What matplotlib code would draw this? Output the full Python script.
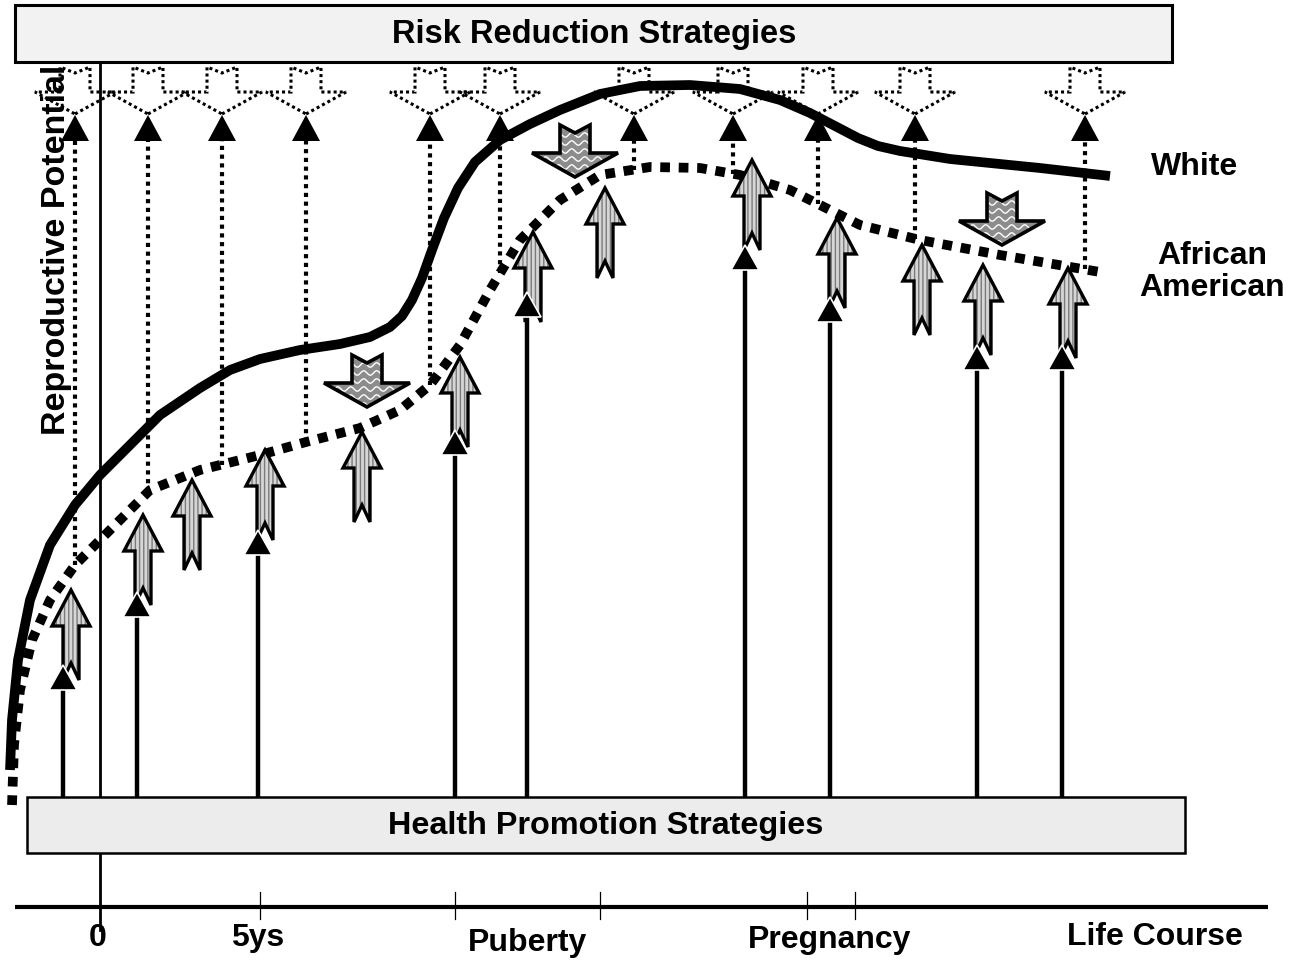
import numpy as np
import matplotlib.pyplot as plt
from matplotlib.patches import Polygon, Rectangle

# ---- data (pixel coordinates, y grows downward) ----
white_x = [10, 12, 18, 30, 50, 75, 100, 130, 160, 200, 230, 260, 300, 340, 370, 390,
           402, 412, 422, 432, 444, 458, 475, 500, 530, 560, 600, 640, 690, 740, 780,
           810, 835, 858, 878, 900, 950, 1040, 1110]
white_y = [770, 720, 660, 600, 545, 505, 475, 445, 415, 388, 370, 359, 350, 344, 337, 327,
           316, 300, 278, 250, 218, 188, 162, 140, 124, 110, 94, 86, 85, 89, 100,
           113, 126, 138, 146, 151, 159, 168, 176]

aa_x = [12, 14, 20, 32, 50, 75, 100, 150, 200, 260, 306, 360, 400, 430, 460,
        490, 520, 560, 600, 650, 700, 740, 790, 820, 860, 920, 1000, 1100]
aa_y = [805, 745, 690, 640, 600, 565, 540, 490, 470, 455, 442, 428, 410, 385, 345,
        290, 240, 200, 175, 167, 168, 175, 190, 205, 225, 240, 255, 272]

# health promotion arrows (solid)
health_x = [63, 137, 258, 455, 527, 745, 830, 977, 1062]
health_tip = [665, 592, 530, 430, 292, 245, 297, 345, 345]

# hatched up arrows
boost_x = [71, 143, 192, 265, 362, 460, 533, 605, 752, 837, 922, 983, 1068]
boost_tip = [590, 515, 480, 450, 432, 357, 232, 188, 160, 218, 245, 265, 268]

# risk reduction arrows (dotted)
risk_x = [75, 148, 222, 306, 430, 500, 634, 733, 818, 915, 1085]

# grey down arrows
down_x = [367, 575, 1002]
down_tip = [407, 177, 245]

tick_x = [260, 455, 600, 807, 855]
labels = ['0', '5ys', 'Puberty', 'Pregnancy', 'Life Course']
label_x = [98, 258, 527, 830, 1155]
label_y = [938, 938, 943, 940, 937]

# ---- figure ----
fig = plt.figure(figsize=(13.01, 9.64), dpi=100)
ax = fig.add_axes([0, 0, 1, 1])
ax.set_xlim(0, 1301)
ax.set_ylim(964, 0)
ax.axis('off')

sans = ['Liberation Sans', 'DejaVu Sans']


def up_block(x, tip, L=90, hl=36, hw=19, sw=8, nd=17):
    return [(x, tip), (x + hw, tip + hl), (x + sw, tip + hl), (x + sw, tip + L),
            (x, tip + L - nd), (x - sw, tip + L), (x - sw, tip + hl), (x - hw, tip + hl)]


def down_block(x, tip, L=52, hl=24, hw=43, sw=15, nd=8):
    return [(x, tip), (x + hw, tip - hl), (x + sw, tip - hl), (x + sw, tip - L),
            (x, tip - L + nd), (x - sw, tip - L), (x - sw, tip - hl), (x - hw, tip - hl)]


# boxes
ax.add_patch(Rectangle((15, 5), 1157, 57, facecolor='#f2f2f2', edgecolor='black', lw=2.2, zorder=5))
ax.text(594, 35, 'Risk Reduction Strategies', ha='center', va='center', fontsize=23.5,
        fontweight='bold', family=sans, zorder=6)
ax.add_patch(Rectangle((27, 797), 1158, 56, facecolor='#ececec', edgecolor='black', lw=1.8, zorder=5))
ax.text(606, 826, 'Health Promotion Strategies', ha='center', va='center', fontsize=23.3,
        fontweight='bold', family=sans, zorder=6)

# time axis
ax.plot([15, 1268], [907, 907], color='black', lw=3, solid_capstyle='butt', zorder=2)
ax.plot([100, 100], [62, 930], color='black', lw=2, zorder=2)
for tx in tick_x:
    ax.plot([tx, tx], [892, 919], color='black', lw=0.9, zorder=2)
for lx, ly, lab in zip(label_x, label_y, labels):
    ax.text(lx, ly, lab, ha='center', va='center', fontsize=23, fontweight='bold',
            family=sans)

ax.text(57, 250, 'Reproductive Potential', rotation=90, ha='center', va='center',
        fontsize=24.5, fontweight='bold', family=sans, zorder=7)
ax.text(1195, 167, 'White', ha='center', va='center', fontsize=23, fontweight='bold', family=sans)
ax.text(1212, 272, 'African\nAmerican', ha='center', va='center', fontsize=23,
        fontweight='bold', family=sans, linespacing=1.1)

# curves
ax.plot(white_x, white_y, color='black', lw=7, solid_joinstyle='round',
        solid_capstyle='butt', zorder=3)
ax.plot(aa_x, aa_y, color='black', lw=7, linestyle=(0, (1, 0.9)),
        dash_capstyle='butt', zorder=3)

# risk reduction: dotted arrows from AA curve to dotted down shapes
for rx in risk_x:
    y0 = np.interp(rx, aa_x, aa_y)
    ax.plot([rx, rx], [y0, 140], color='black', lw=3, linestyle=(0, (1, 1.1)),
            dash_capstyle='butt', zorder=4)
    ax.add_patch(Polygon([(rx, 115), (rx + 14, 141), (rx - 14, 141)], closed=True,
                         facecolor='black', edgecolor='none', zorder=4))
    ax.add_patch(Polygon(down_block(rx, 114, L=47, hl=22, hw=40, sw=15, nd=6), closed=True,
                         facecolor='none', edgecolor='black', lw=2.2,
                         linestyle=(0, (1, 1)), zorder=4))

# health promotion: solid arrows from box
for hx, ht in zip(health_x, health_tip):
    ax.plot([hx, hx], [797, ht + 20], color='black', lw=3.2, solid_capstyle='butt', zorder=4)
    ax.add_patch(Polygon([(hx, ht), (hx + 14, ht + 25), (hx - 14, ht + 25)], closed=True,
                         facecolor='black', edgecolor='white', lw=1.2, zorder=8))

# hatched up arrows
for bx, bt in zip(boost_x, boost_tip):
    pts = up_block(bx, bt)
    ax.add_patch(Polygon(pts, closed=True, facecolor='#d6d6d6', edgecolor='#7a7a7a',
                         hatch='||||', lw=0, zorder=6))
    ax.add_patch(Polygon(pts, closed=True, facecolor='none', edgecolor='black',
                         lw=2.4, joinstyle='miter', zorder=7))

# grey down arrows with white wavy pattern
for dx, dt in zip(down_x, down_tip):
    pts = down_block(dx, dt)
    base = Polygon(pts, closed=True, facecolor='#8c8c8c', edgecolor='none', zorder=6)
    ax.add_patch(base)
    xs = np.linspace(dx - 45, dx + 45, 200)
    for wy in np.arange(dt - 50, dt, 8):
        wl, = ax.plot(xs, wy + 2.2 * np.sin((xs - dx) * 2 * np.pi / 13), color='white',
                      lw=1.0, zorder=6.5)
        wl.set_clip_path(base)
    ax.add_patch(Polygon(pts, closed=True, facecolor='none', edgecolor='black',
                         lw=2.6, joinstyle='miter', zorder=7))

fig.savefig('out.png', dpi=100, facecolor='white')
